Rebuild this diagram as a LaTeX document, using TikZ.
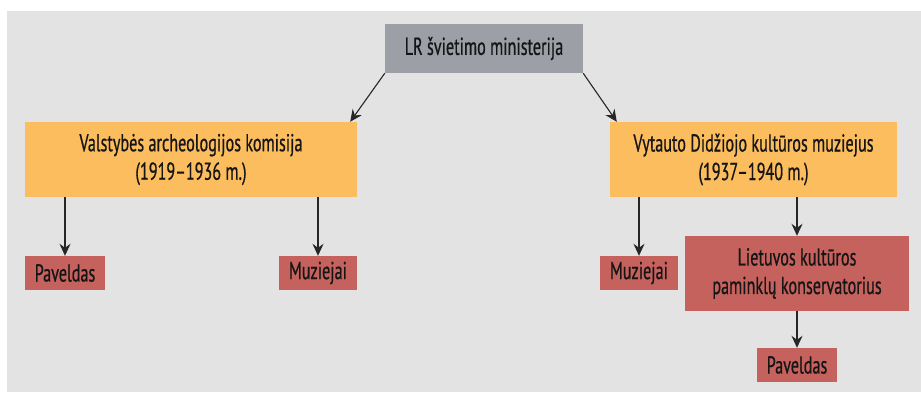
\documentclass[tikz,border=0pt]{standalone}
\usepackage{fontspec}
\setmainfont[FakeStretch=0.66,FakeBold=0.6]{PT Sans}
\usetikzlibrary{arrows.meta}
\definecolor{bgc}{HTML}{E3E3E3}
\definecolor{grayc}{HTML}{9D9FA6}
\definecolor{orc}{HTML}{FCBD5E}
\definecolor{redc}{HTML}{C5625E}
\definecolor{txt}{HTML}{151515}
\tikzset{
  box/.style={inner sep=0pt, align=center, text=txt, font=\fontsize{24.5}{28.5}\selectfont},
  topbox/.style={box, fill=grayc},
  orbox/.style={box, fill=orc},
  redbox/.style={box, fill=redc},
  arr/.style={draw=black!85, line width=1.1pt, -{Stealth[length=12pt,width=11pt,inset=4pt]}}
}
\begin{document}
\begin{tikzpicture}[x=1pt,y=-1pt]
\useasboundingbox (0,0) rectangle (921,392);
\fill[bgc] (7,11) rectangle (921,392);
\node[topbox, minimum width=198pt, minimum height=49pt] (top) at (484,48.5) {LR švietimo ministerija};
\node[orbox, minimum width=332pt, minimum height=75pt] (lo) at (191,159.5) {Valstybės archeologijos komisija\\(1919–1936 m.)};
\node[orbox, minimum width=287pt, minimum height=75pt] (ro) at (753.5,159.5) {Vytauto Didžiojo kultūros muziejus\\(1937–1940 m.)};
\node[redbox, minimum width=80pt, minimum height=34pt] (pl) at (65,273) {Paveldas};
\node[redbox, minimum width=78pt, minimum height=34pt] (ml) at (318,273) {Muziejai};
\node[redbox, minimum width=78pt, minimum height=34pt] (mr) at (639,273) {Muziejai};
\node[redbox, minimum width=224pt, minimum height=75pt] (ks) at (797,273.5) {Lietuvos kultūros\\paminklų konservatorius};
\node[redbox, minimum width=80pt, minimum height=34pt] (pb) at (797,365) {Paveldas};
\draw[arr] (top.south west) -- ([xshift=-7pt]lo.north east);
\draw[arr] (top.south east) -- ([xshift=7pt]ro.north west);
\draw[arr] (pl.north |- lo.south) -- (pl.north);
\draw[arr] (ml.north |- lo.south) -- (ml.north);
\draw[arr] (mr.north |- ro.south) -- (mr.north);
\draw[arr] (ks.north |- ro.south) -- (ks.north);
\draw[arr] (ks.south) -- (pb.north);
\end{tikzpicture}
\end{document}
